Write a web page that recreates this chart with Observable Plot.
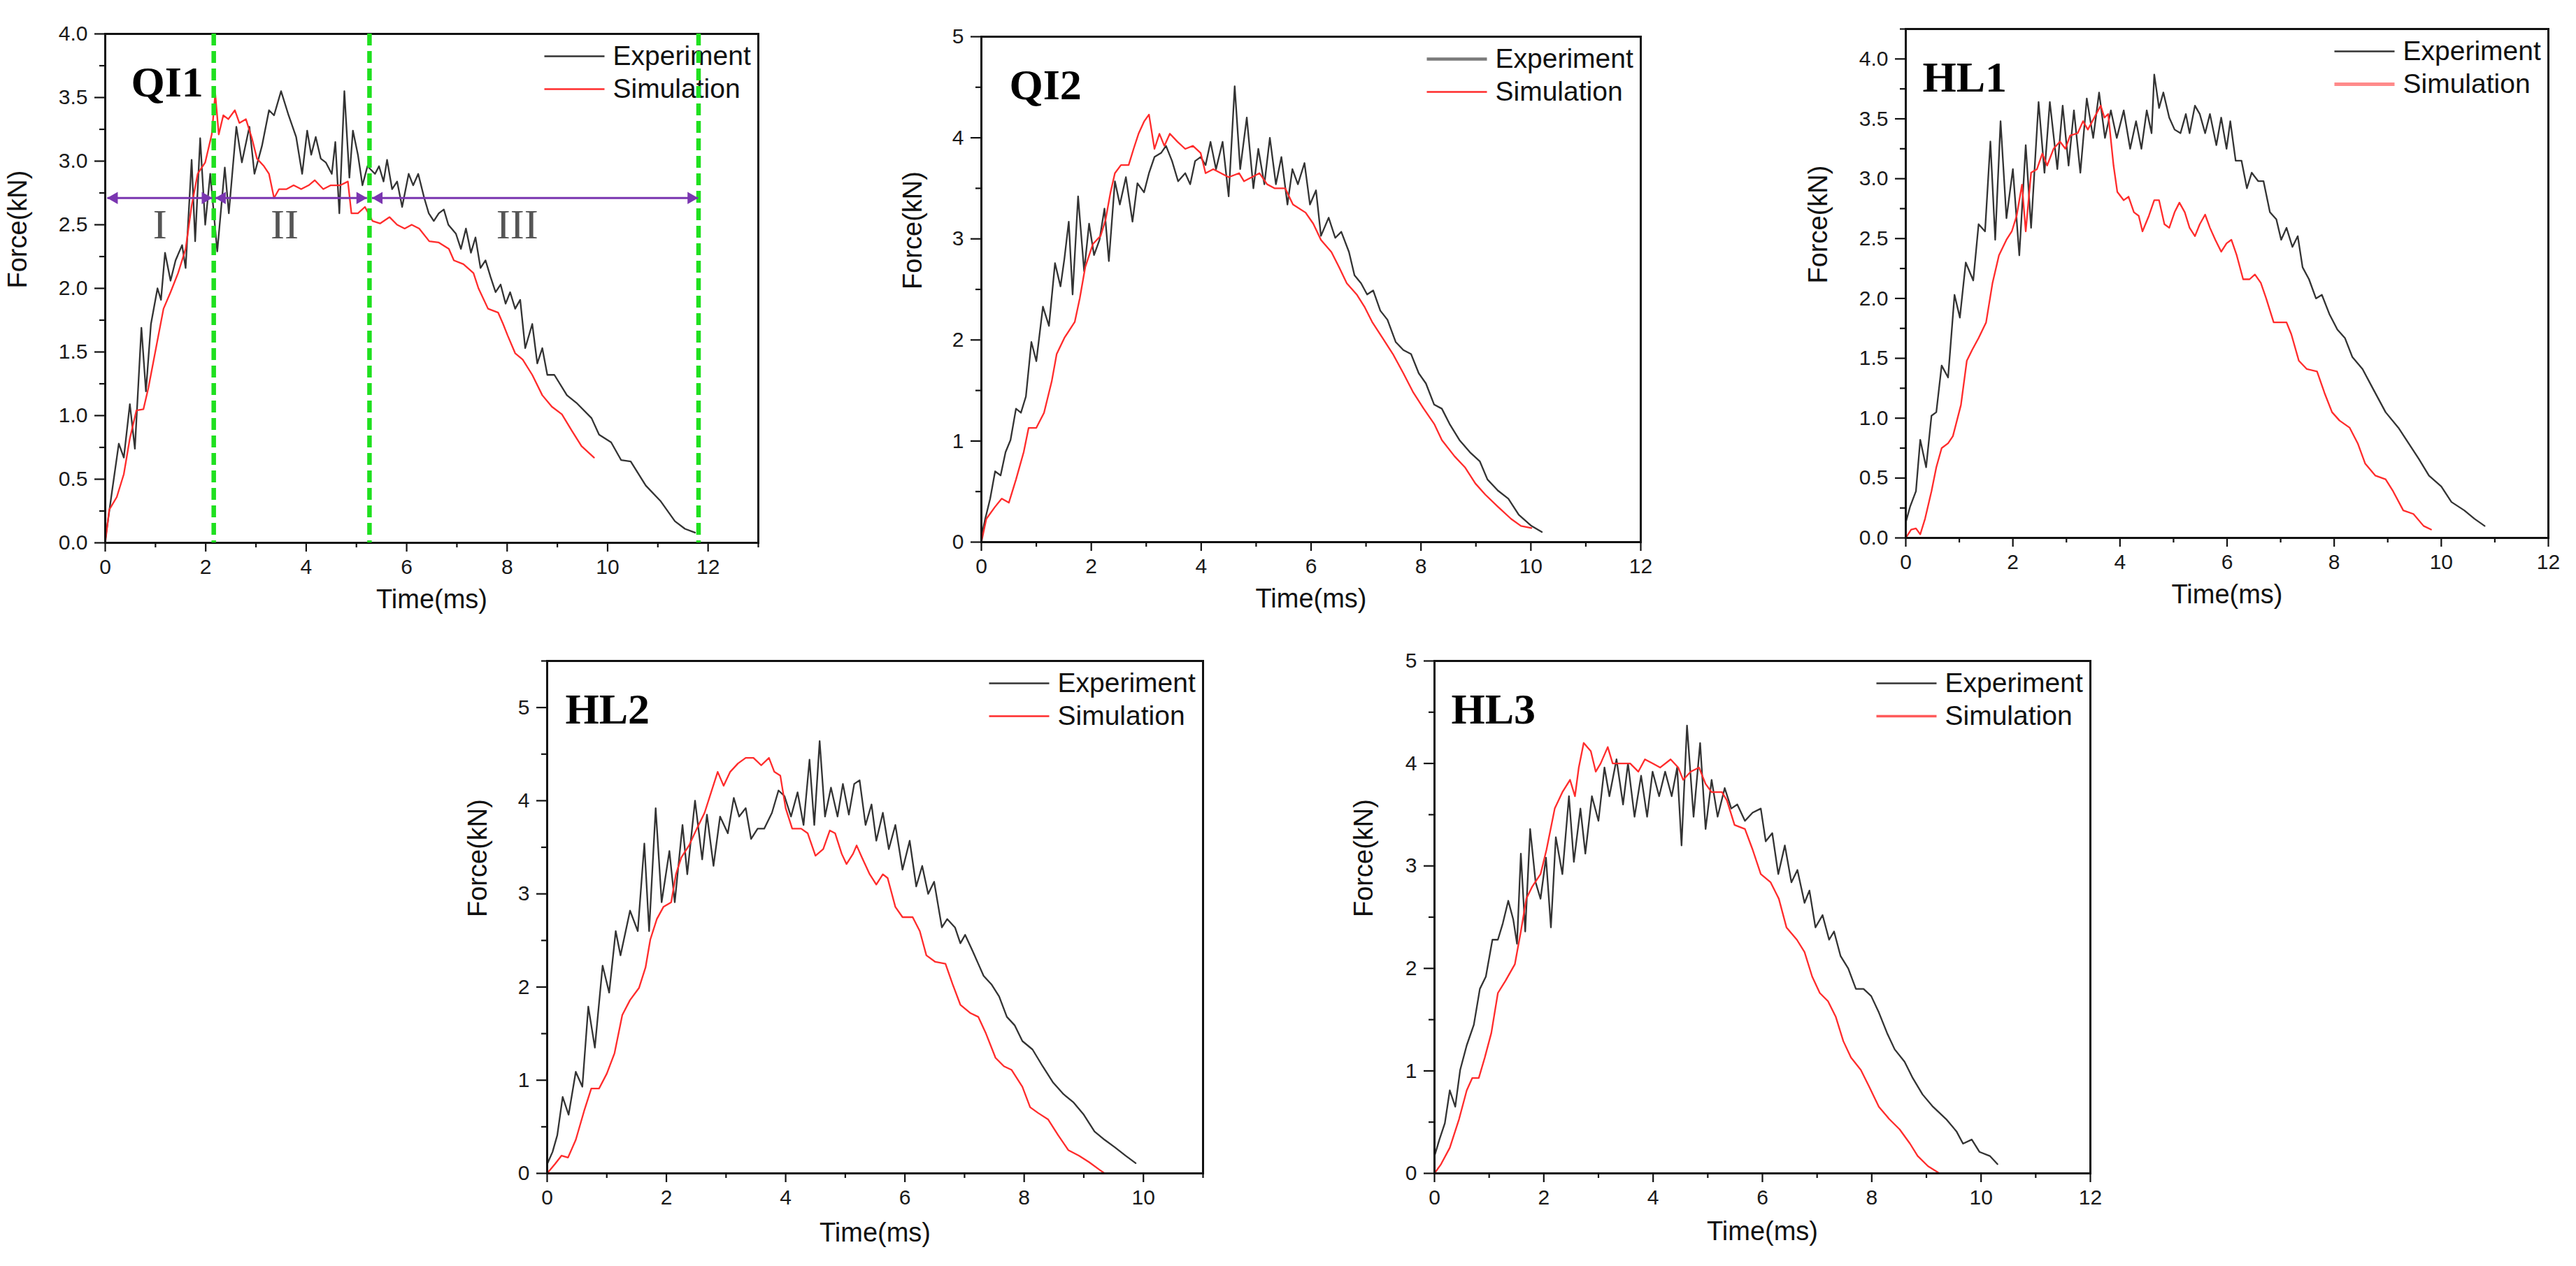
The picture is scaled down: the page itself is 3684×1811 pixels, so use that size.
<!DOCTYPE html>
<html><head><meta charset="utf-8">
<script src="https://cdn.jsdelivr.net/npm/d3@7"></script>
<script src="https://cdn.jsdelivr.net/npm/@observablehq/plot@0.6"></script>
<style>
body{margin:0;background:#fff;}
#wrap{position:relative;width:3684px;height:1811px;overflow:hidden;background:#fff;}
</style></head><body><div id="wrap"></div>
<script>
// ---- Data: [time (ms), force (kN)] ----
const qi1Experiment = [[0,0.02],[0.13,0.39],[0.27,0.78],[0.37,0.67],[0.49,1.09],[0.59,0.74],[0.72,1.69],[0.81,1.19],[0.91,1.72],[1.04,2.0],[1.11,1.91],[1.19,2.28],[1.3,2.06],[1.4,2.22],[1.53,2.34],[1.6,2.16],[1.72,3.01],[1.79,2.37],[1.89,3.18],[1.99,2.5],[2.09,2.9],[2.23,2.29],[2.38,2.95],[2.46,2.59],[2.61,3.27],[2.72,2.99],[2.87,3.27],[2.97,2.9],[3.12,3.12],[3.26,3.4],[3.36,3.36],[3.5,3.55],[3.65,3.36],[3.8,3.19],[3.92,2.9],[4.02,3.24],[4.1,3.05],[4.19,3.19],[4.29,3.02],[4.39,2.99],[4.51,2.9],[4.58,3.15],[4.66,2.59],[4.76,3.55],[4.86,2.87],[4.93,3.24],[5.03,3.05],[5.12,2.81],[5.22,2.96],[5.37,2.9],[5.45,2.96],[5.54,2.84],[5.61,3.01],[5.71,2.78],[5.81,2.84],[5.91,2.64],[6.04,2.9],[6.13,2.81],[6.23,2.9],[6.35,2.71],[6.44,2.59],[6.54,2.53],[6.64,2.59],[6.74,2.62],[6.83,2.5],[6.98,2.43],[7.08,2.31],[7.18,2.47],[7.28,2.28],[7.37,2.4],[7.47,2.16],[7.57,2.22],[7.67,2.09],[7.77,1.97],[7.87,2.03],[7.97,1.88],[8.06,1.97],[8.16,1.84],[8.26,1.91],[8.36,1.53],[8.5,1.72],[8.6,1.41],[8.7,1.53],[8.8,1.32],[8.94,1.32],[9.19,1.16],[9.38,1.1],[9.68,0.98],[9.83,0.85],[10.07,0.79],[10.27,0.65],[10.46,0.64],[10.76,0.45],[11.05,0.33],[11.34,0.17],[11.54,0.11],[11.74,0.08]];
const qi1Simulation = [[0,0],[0.08,0.26],[0.23,0.36],[0.37,0.54],[0.49,0.82],[0.62,1.04],[0.76,1.05],[0.86,1.22],[1.01,1.53],[1.16,1.84],[1.3,1.97],[1.45,2.12],[1.6,2.31],[1.72,2.65],[1.84,2.9],[1.99,2.99],[2.12,3.21],[2.19,3.53],[2.26,3.21],[2.35,3.36],[2.45,3.33],[2.58,3.4],[2.67,3.3],[2.8,3.33],[2.92,3.18],[3.02,3.02],[3.16,2.96],[3.26,2.9],[3.36,2.71],[3.46,2.78],[3.61,2.78],[3.75,2.81],[3.9,2.78],[4.05,2.81],[4.17,2.85],[4.34,2.78],[4.49,2.81],[4.68,2.81],[4.83,2.84],[4.9,2.59],[5.03,2.59],[5.17,2.64],[5.32,2.53],[5.47,2.51],[5.66,2.56],[5.81,2.5],[5.96,2.47],[6.1,2.5],[6.25,2.47],[6.45,2.37],[6.64,2.36],[6.84,2.31],[6.94,2.22],[7.13,2.19],[7.33,2.12],[7.43,2.0],[7.62,1.84],[7.82,1.81],[7.92,1.72],[8.01,1.63],[8.16,1.49],[8.31,1.44],[8.5,1.32],[8.7,1.16],[8.89,1.07],[9.09,1.01],[9.29,0.88],[9.48,0.76],[9.73,0.67]];

const qi2Experiment = [[0,0.05],[0.07,0.23],[0.16,0.43],[0.25,0.7],[0.35,0.66],[0.44,0.89],[0.53,1.01],[0.63,1.32],[0.72,1.28],[0.81,1.44],[0.91,1.98],[1.0,1.79],[1.12,2.33],[1.23,2.14],[1.34,2.76],[1.44,2.53],[1.51,2.8],[1.59,3.17],[1.66,2.45],[1.76,3.42],[1.87,2.68],[1.96,3.15],[2.05,2.84],[2.15,2.99],[2.24,3.3],[2.32,2.78],[2.43,3.57],[2.52,3.34],[2.63,3.61],[2.75,3.17],[2.84,3.55],[2.96,3.46],[3.05,3.65],[3.15,3.81],[3.27,3.85],[3.36,3.92],[3.47,3.77],[3.58,3.57],[3.71,3.65],[3.8,3.54],[3.89,3.77],[3.99,3.81],[4.08,3.73],[4.17,3.96],[4.27,3.69],[4.39,3.96],[4.5,3.42],[4.61,4.51],[4.71,3.69],[4.83,4.2],[4.95,3.5],[5.04,3.89],[5.15,3.54],[5.25,4.0],[5.36,3.54],[5.46,3.81],[5.57,3.34],[5.66,3.69],[5.76,3.54],[5.88,3.75],[5.98,3.34],[6.09,3.48],[6.18,3.03],[6.32,3.21],[6.44,3.01],[6.55,3.07],[6.69,2.87],[6.79,2.64],[6.91,2.56],[7.02,2.45],[7.13,2.49],[7.26,2.29],[7.39,2.2],[7.54,1.98],[7.68,1.9],[7.82,1.86],[7.96,1.67],[8.09,1.57],[8.24,1.36],[8.38,1.32],[8.52,1.17],[8.7,1.01],[8.89,0.89],[9.07,0.8],[9.21,0.62],[9.4,0.51],[9.59,0.43],[9.78,0.27],[10.01,0.16],[10.2,0.1]];
const qi2Simulation = [[0,0],[0.09,0.23],[0.25,0.35],[0.37,0.43],[0.5,0.39],[0.63,0.62],[0.77,0.89],[0.86,1.13],[1.0,1.13],[1.14,1.28],[1.28,1.59],[1.37,1.86],[1.51,2.02],[1.7,2.18],[1.79,2.41],[1.89,2.72],[2.03,2.95],[2.17,3.03],[2.26,3.19],[2.35,3.46],[2.43,3.65],[2.54,3.73],[2.68,3.73],[2.77,3.89],[2.86,4.04],[2.96,4.16],[3.05,4.23],[3.15,3.89],[3.24,4.04],[3.33,3.92],[3.43,4.04],[3.57,3.96],[3.71,3.89],[3.85,3.92],[3.99,3.85],[4.08,3.65],[4.22,3.69],[4.36,3.65],[4.5,3.61],[4.69,3.65],[4.78,3.57],[4.92,3.61],[5.06,3.65],[5.2,3.54],[5.34,3.5],[5.53,3.5],[5.67,3.34],[5.9,3.26],[6.04,3.15],[6.18,2.99],[6.37,2.87],[6.51,2.72],[6.65,2.56],[6.83,2.45],[6.97,2.33],[7.11,2.18],[7.3,2.02],[7.49,1.86],[7.68,1.67],[7.86,1.48],[8.05,1.32],[8.24,1.17],[8.38,1.01],[8.61,0.85],[8.8,0.74],[8.99,0.58],[9.17,0.47],[9.4,0.35],[9.64,0.23],[9.82,0.16],[10.01,0.14]];

const hl1Experiment = [[0,0.13],[0.08,0.26],[0.19,0.39],[0.27,0.82],[0.38,0.59],[0.48,1.02],[0.57,1.05],[0.67,1.44],[0.79,1.34],[0.91,2.03],[1.01,1.84],[1.12,2.3],[1.26,2.15],[1.36,2.62],[1.48,2.56],[1.58,3.31],[1.67,2.49],[1.77,3.48],[1.88,2.67],[2.0,3.08],[2.12,2.36],[2.24,3.28],[2.34,2.59],[2.48,3.64],[2.59,3.05],[2.69,3.64],[2.83,3.08],[2.93,3.61],[3.04,3.11],[3.14,3.57],[3.26,3.05],[3.38,3.67],[3.5,3.34],[3.61,3.72],[3.72,3.34],[3.83,3.57],[3.94,3.34],[4.07,3.57],[4.19,3.25],[4.3,3.48],[4.4,3.25],[4.5,3.57],[4.59,3.38],[4.64,3.87],[4.73,3.59],[4.81,3.72],[4.92,3.51],[5.02,3.41],[5.13,3.38],[5.23,3.54],[5.3,3.38],[5.4,3.61],[5.49,3.54],[5.59,3.38],[5.68,3.54],[5.8,3.28],[5.89,3.51],[5.99,3.25],[6.06,3.48],[6.16,3.15],[6.27,3.15],[6.37,2.92],[6.46,3.05],[6.58,2.98],[6.68,2.98],[6.8,2.72],[6.92,2.66],[7.01,2.49],[7.11,2.59],[7.22,2.43],[7.32,2.52],[7.41,2.26],[7.53,2.16],[7.66,2.0],[7.77,2.03],[7.91,1.87],[8.06,1.74],[8.2,1.67],[8.34,1.51],[8.53,1.41],[8.72,1.25],[8.96,1.05],[9.2,0.92],[9.39,0.79],[9.58,0.66],[9.77,0.52],[10.0,0.43],[10.19,0.3],[10.43,0.23],[10.62,0.16],[10.81,0.1]];
const hl1Simulation = [[0,0],[0.1,0.07],[0.19,0.08],[0.27,0.03],[0.36,0.16],[0.48,0.39],[0.57,0.59],[0.67,0.75],[0.79,0.79],[0.88,0.85],[1.03,1.11],[1.14,1.48],[1.24,1.57],[1.36,1.67],[1.5,1.8],[1.62,2.13],[1.74,2.36],[1.88,2.49],[1.98,2.56],[2.07,2.69],[2.17,2.95],[2.24,2.56],[2.34,3.05],[2.45,3.08],[2.55,3.21],[2.64,3.11],[2.76,3.25],[2.88,3.31],[2.98,3.25],[3.07,3.36],[3.21,3.38],[3.31,3.48],[3.4,3.41],[3.52,3.51],[3.64,3.61],[3.71,3.51],[3.78,3.54],[3.88,3.11],[3.95,2.89],[4.07,2.82],[4.16,2.85],[4.26,2.72],[4.35,2.69],[4.42,2.56],[4.54,2.69],[4.64,2.82],[4.73,2.82],[4.83,2.62],[4.92,2.59],[5.02,2.72],[5.11,2.8],[5.21,2.72],[5.3,2.59],[5.4,2.52],[5.49,2.62],[5.59,2.7],[5.68,2.59],[5.78,2.49],[5.89,2.39],[5.99,2.46],[6.08,2.49],[6.18,2.36],[6.3,2.16],[6.42,2.16],[6.52,2.2],[6.63,2.13],[6.73,2.0],[6.87,1.8],[7.01,1.8],[7.11,1.8],[7.2,1.7],[7.34,1.48],[7.49,1.41],[7.68,1.39],[7.82,1.21],[7.96,1.05],[8.1,0.98],[8.29,0.92],[8.44,0.79],[8.58,0.62],[8.77,0.52],[8.96,0.49],[9.1,0.39],[9.29,0.23],[9.48,0.2],[9.67,0.1],[9.81,0.07]];

const hl2Experiment = [[0,0.1],[0.09,0.23],[0.17,0.41],[0.26,0.82],[0.36,0.63],[0.48,1.09],[0.59,0.93],[0.69,1.79],[0.8,1.35],[0.93,2.23],[1.04,1.94],[1.15,2.6],[1.23,2.34],[1.39,2.82],[1.52,2.6],[1.63,3.54],[1.71,2.6],[1.82,3.92],[1.92,2.91],[2.05,3.46],[2.14,2.91],[2.27,3.74],[2.35,3.21],[2.48,4.0],[2.6,3.37],[2.68,3.85],[2.79,3.3],[2.9,3.83],[3.03,3.65],[3.13,4.03],[3.22,3.83],[3.33,3.92],[3.42,3.59],[3.53,3.7],[3.64,3.7],[3.77,3.87],[3.88,4.11],[3.98,4.05],[4.09,3.83],[4.2,4.09],[4.3,3.74],[4.4,4.44],[4.48,3.74],[4.57,4.64],[4.66,3.83],[4.76,4.14],[4.87,3.83],[4.96,4.18],[5.06,3.85],[5.15,4.18],[5.24,4.22],[5.34,3.74],[5.44,3.96],[5.52,3.57],[5.63,3.87],[5.73,3.48],[5.84,3.74],[5.96,3.26],[6.08,3.57],[6.19,3.08],[6.29,3.3],[6.39,3.0],[6.49,3.13],[6.62,2.64],[6.71,2.73],[6.84,2.64],[6.93,2.47],[7.01,2.56],[7.14,2.38],[7.23,2.25],[7.32,2.12],[7.45,2.03],[7.58,1.9],[7.71,1.68],[7.84,1.59],[7.97,1.42],[8.14,1.33],[8.31,1.15],[8.48,0.98],[8.66,0.85],[8.83,0.76],[9.0,0.63],[9.18,0.45],[9.35,0.36],[9.52,0.28],[9.7,0.19],[9.87,0.11]];
const hl2Simulation = [[0,0],[0.13,0.1],[0.24,0.19],[0.35,0.17],[0.48,0.36],[0.62,0.67],[0.74,0.91],[0.87,0.91],[1.0,1.07],[1.13,1.29],[1.26,1.7],[1.39,1.86],[1.54,1.99],[1.65,2.21],[1.73,2.51],[1.84,2.73],[1.95,2.86],[2.08,2.91],[2.16,3.21],[2.25,3.39],[2.38,3.52],[2.51,3.7],[2.64,3.87],[2.75,4.09],[2.86,4.31],[2.96,4.16],[3.07,4.31],[3.2,4.4],[3.33,4.46],[3.46,4.46],[3.59,4.38],[3.72,4.46],[3.81,4.31],[3.91,4.27],[4.0,3.92],[4.11,3.7],[4.26,3.7],[4.37,3.65],[4.5,3.41],[4.63,3.48],[4.74,3.68],[4.83,3.65],[4.94,3.43],[5.02,3.32],[5.13,3.43],[5.19,3.52],[5.28,3.39],[5.41,3.21],[5.52,3.1],[5.63,3.21],[5.71,3.17],[5.84,2.86],[5.96,2.75],[6.13,2.75],[6.25,2.6],[6.36,2.34],[6.51,2.27],[6.68,2.25],[6.8,2.03],[6.93,1.81],[7.1,1.72],[7.23,1.68],[7.36,1.5],[7.52,1.24],[7.66,1.15],[7.79,1.11],[7.97,0.93],[8.1,0.71],[8.23,0.65],[8.4,0.58],[8.57,0.41],[8.74,0.25],[8.92,0.19],[9.09,0.12],[9.26,0.04],[9.35,0]];

const hl3Experiment = [[0,0.17],[0.09,0.33],[0.19,0.49],[0.28,0.81],[0.38,0.65],[0.47,1.01],[0.59,1.25],[0.72,1.45],[0.83,1.8],[0.94,1.92],[1.06,2.28],[1.16,2.28],[1.25,2.44],[1.35,2.66],[1.44,2.48],[1.51,2.24],[1.58,3.12],[1.66,2.36],[1.75,3.36],[1.85,2.84],[1.94,2.68],[2.04,3.08],[2.13,2.4],[2.22,3.28],[2.34,2.92],[2.46,3.68],[2.55,3.04],[2.67,3.56],[2.76,3.12],[2.88,3.68],[3.0,3.44],[3.11,3.96],[3.2,3.68],[3.33,4.04],[3.45,3.6],[3.54,4.0],[3.66,3.48],[3.78,3.88],[3.89,3.48],[3.99,3.92],[4.11,3.68],[4.22,3.92],[4.34,3.68],[4.44,3.96],[4.52,3.2],[4.62,4.37],[4.74,3.48],[4.86,4.2],[4.96,3.36],[5.07,3.84],[5.18,3.48],[5.31,3.76],[5.43,3.56],[5.54,3.6],[5.68,3.44],[5.82,3.52],[5.97,3.56],[6.06,3.24],[6.18,3.32],[6.29,2.92],[6.41,3.2],[6.53,2.84],[6.64,2.96],[6.77,2.64],[6.86,2.76],[6.97,2.4],[7.1,2.52],[7.22,2.28],[7.31,2.36],[7.43,2.12],[7.57,2.0],[7.71,1.8],[7.85,1.8],[7.99,1.73],[8.13,1.57],[8.28,1.37],[8.42,1.21],[8.6,1.09],[8.75,0.93],[8.93,0.77],[9.12,0.65],[9.36,0.53],[9.55,0.41],[9.67,0.29],[9.83,0.33],[9.97,0.21],[10.16,0.17],[10.3,0.09]];
const hl3Simulation = [[0,0],[0.12,0.09],[0.28,0.25],[0.45,0.53],[0.59,0.81],[0.69,0.93],[0.81,0.93],[0.92,1.13],[1.04,1.37],[1.16,1.76],[1.3,1.88],[1.47,2.04],[1.58,2.36],[1.68,2.68],[1.79,2.8],[1.94,2.92],[2.05,3.16],[2.2,3.56],[2.34,3.72],[2.48,3.84],[2.57,3.68],[2.64,3.96],[2.73,4.2],[2.86,4.12],[2.95,3.92],[3.04,4.0],[3.17,4.16],[3.26,4.0],[3.42,4.0],[3.58,4.0],[3.73,3.92],[3.85,4.04],[3.99,4.0],[4.13,3.96],[4.32,4.04],[4.46,3.96],[4.55,3.84],[4.69,3.92],[4.84,3.96],[4.96,3.8],[5.07,3.72],[5.26,3.72],[5.35,3.64],[5.49,3.4],[5.68,3.36],[5.82,3.16],[5.97,2.92],[6.15,2.84],[6.3,2.68],[6.44,2.4],[6.63,2.28],[6.77,2.16],[6.91,1.92],[7.05,1.76],[7.2,1.68],[7.34,1.53],[7.48,1.29],[7.62,1.13],[7.8,1.01],[7.95,0.85],[8.13,0.65],[8.32,0.53],[8.51,0.43],[8.7,0.29],[8.84,0.17],[9.03,0.07],[9.24,0]];

// QI1 stage annotations
const qi1StageBounds = [2.16, 5.26, 11.81];
const qi1StageSpans = [[0.04, 2.13], [2.19, 5.21], [5.31, 11.8]];
const qi1StageY = 2.71;
const qi1StageNames = ["I", "II", "III"];
const qi1StageLabelX = [1.09, 3.57, 8.2];
const qi1StageLabelY = 2.5;

const seriesNames = ["Experiment", "Simulation"];
const seriesColors = ["#333333", "#ff2b2b"];

// ---- Layout (frame pixel boxes) ----
const panels = [
  {title:"QI1", exp:qi1Experiment, sim:qi1Simulation, L:150, R:1084, T:48, B:776, x:[0,13], y:[0,4], ystep:0.5, yfmt:d3.format(".1f"), titleDx:37, yLabOff:125, xLabOff:93, stages:true, legend:[["#333",2.6],["#ff2b2b",2.6]]},
  {title:"QI2", exp:qi2Experiment, sim:qi2Simulation, L:1403, R:2346, T:52, B:775, x:[0,12], y:[0,5], ystep:1, yfmt:d3.format("d"), titleDx:40, yLabOff:98, xLabOff:93, legend:[["#7a7a7a",4.5],["#ff2b2b",2.6]]},
  {title:"HL1", exp:hl1Experiment, sim:hl1Simulation, L:2725, R:3644, T:41, B:769, x:[0,12], y:[0,4.25], ystep:0.5, yfmt:d3.format(".1f"), titleDx:24, yLabOff:125, xLabOff:93, legend:[["#333",2.6],["#ff8a8a",5]]},
  {title:"HL2", exp:hl2Experiment, sim:hl2Simulation, L:782, R:1720, T:945, B:1678, x:[0,11], y:[0,5.5], ystep:1, yfmt:d3.format("d"), titleDx:26, yLabOff:99, xLabOff:97, legend:[["#333",2.6],["#ff2b2b",2.6]]},
  {title:"HL3", exp:hl3Experiment, sim:hl3Simulation, L:2051, R:2989, T:945, B:1678, x:[0,12], y:[0,5], ystep:1, yfmt:d3.format("d"), titleDx:24, yLabOff:101, xLabOff:95, legend:[["#333",2.6],["#ff5a5a",3.6]]}
];

const FONT = "'Liberation Sans', Arial, sans-serif";
const SERIF = "'Liberation Serif', 'Times New Roman', serif";
const mL = 170, mR = 24, mT = 20, mB = 130;
const wrap = document.getElementById("wrap");

function range(a, b, s) { const out = []; for (let v = a; v <= b + 1e-9; v += s) out.push(+v.toFixed(4)); return out; }

for (const p of panels) {
  const iw = p.R - p.L, ih = p.B - p.T;
  const px2x = (px) => p.x[0] + px / iw * (p.x[1] - p.x[0]);
  const px2y = (py) => p.y[1] - py / ih * (p.y[1] - p.y[0]);
  const xMajor = range(0, Math.min(12, p.x[1]), 2);
  const xMinor = range(1, p.x[1], 2);
  const yMajor = range(0, Math.floor(p.y[1] / p.ystep) * p.ystep, p.ystep);
  const yMinor = range(p.ystep / 2, p.y[1], p.ystep).filter(v => !yMajor.includes(v));
  const legRows = seriesNames.map((n, i) => ({name: n, color: p.legend[i][0], w: p.legend[i][1], y: px2y(32 + 47 * i)}));

  const marks = [
    Plot.axisX({ticks: xMajor, tickSize: 13, tickPadding: 10, tickFormat: d3.format("d"), label: null, stroke: "#111", strokeWidth: 2.2, fill: "#1a1a1a"}),
    Plot.axisX({ticks: xMinor, tickSize: 7, tickFormat: () => "", label: null, stroke: "#111", strokeWidth: 2.2}),
    Plot.axisY({ticks: yMajor, tickSize: 15, tickPadding: 10, tickFormat: p.yfmt, label: null, stroke: "#111", strokeWidth: 2.2, fill: "#1a1a1a"}),
    Plot.axisY({ticks: yMinor, tickSize: 8, tickFormat: () => "", label: null, stroke: "#111", strokeWidth: 2.2}),
    Plot.line(p.exp, {x: d => d[0], y: d => d[1], stroke: seriesColors[0], strokeWidth: 2.3}),
    Plot.line(p.sim, {x: d => d[0], y: d => d[1], stroke: seriesColors[1], strokeWidth: 2.3}),
    Plot.frame({stroke: "#111", strokeWidth: 3}),
    // legend
    ...legRows.map(r => Plot.link([r], {x1: px2x(iw - 306), x2: px2x(iw - 220), y1: d => d.y, y2: d => d.y, stroke: r.color, strokeWidth: r.w})),
    Plot.text(legRows, {x: px2x(iw - 208), y: d => d.y, text: "name", textAnchor: "start", fontSize: 39, fontFamily: FONT, fill: "#111"}),
    // panel title
    Plot.text([p.title], {frameAnchor: "top-left", dx: p.titleDx, dy: 45, text: d => d, textAnchor: "start", fontFamily: SERIF, fontWeight: "bold", fontSize: 62, fill: "#000"}),
    // axis titles
    Plot.text(["Force(kN)"], {frameAnchor: "left", dx: -p.yLabOff, rotate: -90, text: d => d, fontSize: 38, fontFamily: FONT, fill: "#111"}),
    Plot.text(["Time(ms)"], {frameAnchor: "bottom", dy: p.xLabOff, text: d => d, fontSize: 38, fontFamily: FONT, fill: "#111"})
  ];

  if (p.stages) {
    const spans = qi1StageSpans.map(([a, b]) => ({a, b}));
    const leftHeads = qi1StageSpans.map(([a]) => ({x: a}));
    const rightHeads = qi1StageSpans.map(([, b]) => ({x: b}));
    const labels = qi1StageNames.map((n, i) => ({n, x: qi1StageLabelX[i]}));
    marks.push(
      Plot.ruleX(qi1StageBounds, {stroke: "#1fe01f", strokeWidth: 6.5, strokeDasharray: "17 8"}),
      Plot.link(spans, {x1: "a", x2: "b", y1: qi1StageY, y2: qi1StageY, stroke: "#7a35b0", strokeWidth: 3}),
      Plot.dot(leftHeads, {x: "x", y: qi1StageY, dx: 10, symbol: "triangle", r: 6.5, fill: "#7a35b0", stroke: "none", rotate: -90}),
      Plot.dot(rightHeads, {x: "x", y: qi1StageY, dx: -10, symbol: "triangle", r: 6.5, fill: "#7a35b0", stroke: "none", rotate: 90}),
      Plot.text(labels, {x: "x", y: qi1StageLabelY, text: "n", fontFamily: SERIF, fontSize: 60, fill: "#555"})
    );
  }

  const svg = Plot.plot({
    width: iw + mL + mR,
    height: ih + mT + mB,
    marginLeft: mL, marginRight: mR, marginTop: mT, marginBottom: mB,
    x: {domain: p.x},
    y: {domain: p.y},
    style: {fontFamily: FONT, fontSize: "30px", background: "transparent", color: "#111", overflow: "visible"},
    marks
  });
  svg.style.position = "absolute";
  svg.style.left = (p.L - mL) + "px";
  svg.style.top = (p.T - mT) + "px";
  wrap.appendChild(svg);
}
</script>
</body></html>
